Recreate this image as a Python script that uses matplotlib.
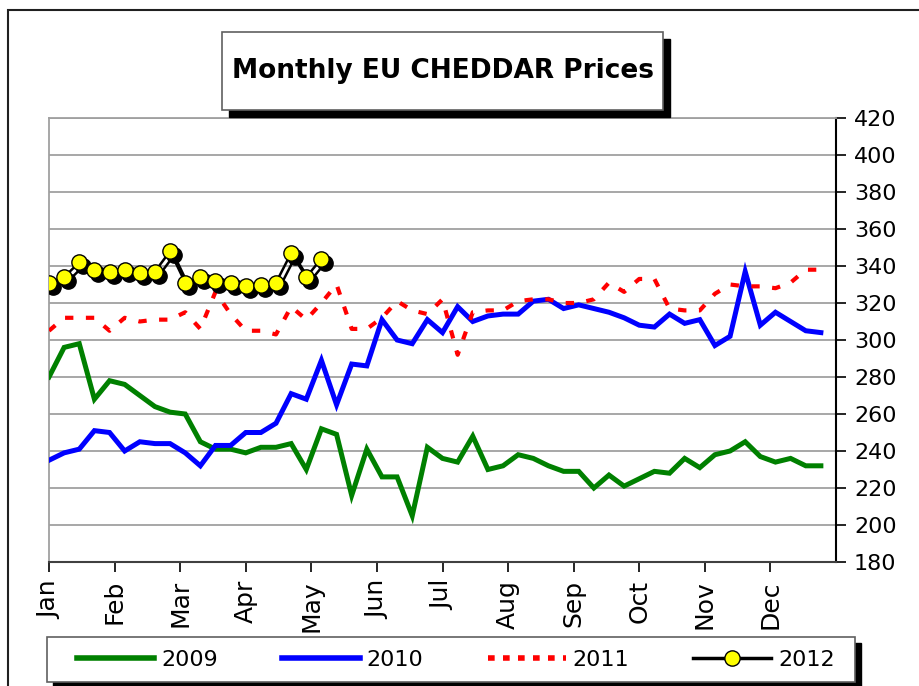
import numpy as np
from matplotlib import pyplot as plt
from matplotlib.patches import Rectangle
from matplotlib.lines import Line2D
from matplotlib import transforms

plt.rcParams['font.family'] = 'DejaVu Sans'

months = ['Jan', 'Feb', 'Mar', 'Apr', 'May', 'Jun', 'Jul', 'Aug', 'Sep', 'Oct', 'Nov', 'Dec']

# weekly prices
p2009 = [280, 296, 298, 268, 278, 276, 270, 264, 261, 260, 245, 241, 241, 239, 242, 242,
         244, 230, 252, 249, 216, 241, 226, 226, 205, 242, 236, 234, 248, 230, 232, 238,
         236, 232, 229, 229, 220, 227, 221, 225, 229, 228, 236, 231, 238, 240, 245, 237,
         234, 236, 232, 232]
p2010 = [235, 239, 241, 251, 250, 240, 245, 244, 244, 239, 232, 243, 243, 250, 250, 255,
         271, 268, 289, 265, 287, 286, 311, 300, 298, 311, 304, 318, 310, 313, 314, 314,
         321, 322, 317, 319, 317, 315, 312, 308, 307, 314, 309, 311, 297, 302, 337, 308,
         315, 310, 305, 304]
p2011 = [305, 312, 312, 312, 305, 312, 310, 311, 311, 315, 306, 326, 314, 305, 305, 303,
         318, 311, 320, 330, 306, 306, 312, 321, 316, 314, 322, 292, 315, 316, 316, 321,
         322, 322, 320, 320, 322, 331, 326, 333, 333, 317, 316, 316, 325, 330, 329, 329,
         328, 331, 338, 338]
p2012 = [331, 334, 342, 338, 337, 338, 336, 337, 348, 331, 334, 332, 331, 329, 330, 331,
         347, 334, 344]

fig = plt.figure(figsize=(9.19, 6.86), dpi=100)
ax = fig.add_axes([49/919, 1-562/686, 787/919, 444/686])

wk = np.arange(52)
ax.plot(wk, p2009, color='#008000', lw=3.6, solid_joinstyle='miter', zorder=3)
ax.plot(wk, p2010, color='#0000FF', lw=3.6, solid_joinstyle='miter', zorder=3)
ax.plot(wk, p2011, color='#FF0000', lw=3, linestyle=(0, (2, 3)), zorder=3)

wk12 = np.arange(len(p2012))
shadow = transforms.offset_copy(ax.transData, fig=fig, x=4, y=-4, units='dots')
ax.plot(wk12, p2012, color='black', lw=1.8, marker='o', ms=11, mfc='black', mec='black',
        transform=shadow, zorder=4)
ax.plot(wk12, p2012, color='black', lw=1.8, marker='o', ms=11, mfc='#FFFF00', mec='black',
        mew=1, zorder=5)

ax.set_xlim(0, 52)
ax.set_ylim(180, 420)
ax.set_yticks(np.arange(180, 421, 20))
ax.yaxis.tick_right()
ax.tick_params(axis='y', direction='out', length=7, width=1.2, labelsize=16, pad=6)
ax.set_xticks(np.arange(12) * 52 / 12)
ax.set_xticklabels(months, rotation=90, fontsize=18)
ax.tick_params(axis='x', direction='out', length=7, width=1.2, pad=6)
ax.grid(axis='y', color='#a0a0a0', lw=1.3)
ax.set_axisbelow(True)
for s in ['left', 'top']:
    ax.spines[s].set_color('#a0a0a0')
    ax.spines[s].set_linewidth(1.3)
ax.spines['right'].set_linewidth(1.5)
ax.spines['bottom'].set_color('#404040')
ax.spines['bottom'].set_linewidth(1.5)

# outer frame
fig.patches.append(Rectangle((8/919, -0.2), 1.2, 0.2 + 1 - 10/686, transform=fig.transFigure,
                             fill=False, ec='#202020', lw=1.5))

# title box with shadow
tx0, ty0, tw, th = 222/919, 1-110/686, 441/919, 78/686
fig.patches.append(Rectangle((tx0 + 7/919, ty0 - 7/686), tw, th, transform=fig.transFigure,
                             fc='black', ec='black', zorder=1))
fig.patches.append(Rectangle((tx0, ty0), tw, th, transform=fig.transFigure,
                             fc='white', ec='#606060', lw=1.2, zorder=2))
fig.text(tx0 + tw/2, ty0 + th/2, 'Monthly EU CHEDDAR Prices', ha='center', va='center',
         fontsize=19, fontweight='bold', zorder=3)

# legend box with shadow
lx0, ly0, lw_, lh = 47/919, 4/686, 808/919, 45/686
fig.patches.append(Rectangle((lx0 + 6/919, ly0 - 6/686), lw_, lh, transform=fig.transFigure,
                             fc='black', ec='black', zorder=1))
fig.patches.append(Rectangle((lx0, ly0), lw_, lh, transform=fig.transFigure,
                             fc='white', ec='#606060', lw=1.2, zorder=2))
handles = [
    Line2D([], [], color='#008000', lw=4),
    Line2D([], [], color='#0000FF', lw=4),
    Line2D([], [], color='#FF0000', lw=4, linestyle=(0, (1.2, 1.5))),
    Line2D([], [], color='black', lw=2.5, marker='o', ms=11, mfc='#FFFF00', mec='black'),
]
leg = fig.legend(handles, ['2009', '2010', '2011', '2012'], ncol=4, frameon=False,
                 loc='center', bbox_to_anchor=(lx0 + lw_/2 + 0.005, ly0 + lh/2),
                 fontsize=16, handlelength=3.5, handletextpad=0.3, columnspacing=2.9)
leg.set_zorder(3)

plt.savefig('out.png', dpi=100)
plt.close()
